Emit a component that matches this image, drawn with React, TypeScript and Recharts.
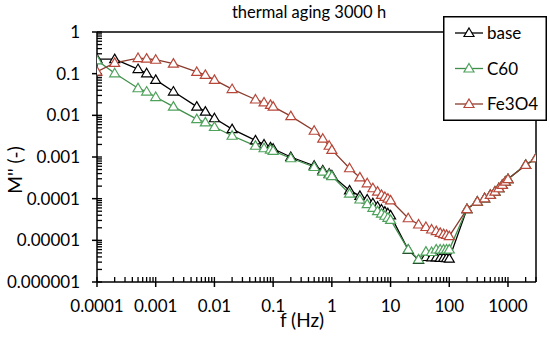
import React from 'react';
import { ComposedChart, Line, XAxis, YAxis, ReferenceLine } from 'recharts';

// Frequencies (Hz)
const frequencies = [
  0.0001, 0.0002, 0.0005, 0.0007, 0.001, 0.002, 0.005, 0.007, 0.01, 0.02, 0.05, 0.07, 0.09,
  0.1, 0.2, 0.5, 0.7, 0.9, 1, 2, 3, 4, 5, 6, 7, 8, 9, 10, 20, 30, 40, 50, 60, 70, 80, 90,
  100, 200, 300, 400, 500, 600, 700, 800, 900, 1000, 2000, 3000,
];

const baseValues = [
  0.224, 0.224, 0.129, 0.102, 0.0708, 0.0372, 0.0162, 0.0123, 0.00851, 0.00468, 0.00251, 0.002, 0.0017,
  0.00158, 0.001, 0.000617, 0.000479, 0.000398, 0.000363,
  0.000158, 0.000117, 0.0000955, 0.0000776, 0.0000646, 0.000055, 0.000049, 0.0000447,
  0.0000398, 0.00000589, 0.00000339, 0.00000398, 0.00000389, 0.00000389, 0.0000038, 0.0000038, 0.00000372,
  0.00000363, 0.0000562, 0.0000851, 0.000102, 0.000123, 0.000148, 0.000178, 0.000214, 0.000257,
  0.000295, 0.000646, 0.000933,
];

const c60Values = [
  0.209, 0.102, 0.0447, 0.0372, 0.0275, 0.0162, 0.00813, 0.00676, 0.00525, 0.00324, 0.00186, 0.00162, 0.00151,
  0.00141, 0.000933, 0.000575, 0.000447, 0.00038, 0.000347,
  0.000132, 0.0000955, 0.0000741, 0.0000603, 0.0000501, 0.0000437, 0.0000389, 0.0000347,
  0.0000309, 0.00000603, 0.00000347, 0.00000537, 0.00000525, 0.00000603, 0.00000603, 0.00000603, 0.00000603,
  0.00000603, 0.0000562, 0.0000851, 0.000102, 0.000123, 0.000148, 0.000178, 0.000214, 0.000257,
  0.000295, 0.000646, 0.000933,
];

const fe3o4Values = [
  0.112, 0.182, 0.237, 0.229, 0.216, 0.174, 0.11, 0.0933, 0.0708, 0.0427, 0.024, 0.0204, 0.0178,
  0.0162, 0.00955, 0.00427, 0.00275, 0.00186, 0.00148,
  0.000537, 0.000324, 0.000234, 0.000178, 0.000148, 0.000123, 0.00011, 0.0001,
  0.0000912, 0.0000339, 0.000024, 0.0000209, 0.0000182, 0.0000166, 0.0000151, 0.0000141, 0.0000135,
  0.0000126, 0.0000562, 0.0000851, 0.000102, 0.000123, 0.000148, 0.000178, 0.000214, 0.000257,
  0.000295, 0.000646, 0.000933,
];

const xMajorTicks = [0.0001, 0.001, 0.01, 0.1, 1, 10, 100, 1000];
const xMajorLabels = ['0.0001', '0.001', '0.01', '0.1', '1', '10', '100', '1000'];
const yMajorTicks = [0.000001, 0.00001, 0.0001, 0.001, 0.01, 0.1, 1];
const yMajorLabels = ['0.000001', '0.00001', '0.0001', '0.001', '0.01', '0.1', '1'];
const xDomain = [0.0001, 3000];
const yDomain = [0.000001, 1];

const seriesNames = ['base', 'C60', 'Fe3O4'];
const seriesKeys = ['base', 'c60', 'fe'];
const lineColors = ['#000000', '#3f8f4a', '#8a3b2c'];
const markerColors = ['#000000', '#4fa25c', '#b8473a'];

const FONT = "Lato, 'Open Sans', sans-serif";
const TICK_LEN = 5;

const data = frequencies.map((f, i) => ({
  f,
  base: baseValues[i],
  c60: c60Values[i],
  fe: fe3o4Values[i],
}));

const buildMinor = (majors: number[], max: number) => {
  const out: number[] = [];
  majors.forEach((m) => {
    for (let k = 2; k <= 9; k++) {
      const v = parseFloat((m * k).toPrecision(6));
      if (v <= max) out.push(v);
    }
  });
  return out;
};

const xAllTicks = [...xMajorTicks, ...buildMinor(xMajorTicks, xDomain[1])].sort((a, b) => a - b);
const yAllTicks = [...yMajorTicks, ...buildMinor(yMajorTicks.slice(0, -1), yDomain[1])].sort((a, b) => a - b);

// Native tick lines point inward (negative tick size); the custom tick adds
// the outward stub of each major tick and its label.
const XTick = (props: any) => {
  const { x, y, payload } = props;
  const ay = Number(y) + TICK_LEN; // axis line position
  const idx = xMajorTicks.indexOf(payload.value);
  if (idx < 0) return <g />;
  return (
    <g>
      <line x1={x} x2={x} y1={ay} y2={ay + 5} stroke="#000000" strokeWidth={1.5} />
      <text x={x} y={ay + 30} textAnchor="middle" fontSize={17} fontFamily={FONT} fill="#000">
        {xMajorLabels[idx]}
      </text>
    </g>
  );
};

const YTick = (props: any) => {
  const { x, y, payload } = props;
  const ax = Number(x) - TICK_LEN; // axis line position
  const idx = yMajorTicks.indexOf(payload.value);
  if (idx < 0) return <g />;
  return (
    <g>
      <line x1={ax - 5} x2={ax} y1={y} y2={y} stroke="#000000" strokeWidth={1.5} />
      <text x={ax - 17} y={Number(y) + 6} textAnchor="end" fontSize={17} fontFamily={FONT} fill="#000">
        {yMajorLabels[idx]}
      </text>
    </g>
  );
};

const makeTriangle = (color: string) => (props: any) => {
  const { cx, cy, index } = props;
  if (cx == null || cy == null) return <g key={index} />;
  return (
    <path
      key={index}
      d={`M${cx},${cy - 5} L${cx + 5},${cy + 3.5} L${cx - 5},${cy + 3.5} Z`}
      fill="#fff"
      stroke={color}
      strokeWidth={1.2}
    />
  );
};

const LegendBox = () => (
  <svg width={104} height={105} style={{ display: 'block' }}>
    <rect x={0.75} y={0.75} width={102.5} height={103.5} fill="#fff" stroke="#000" strokeWidth={1.5} />
    {seriesNames.map((name, i) => {
      const cy = 17 + i * 35.5;
      return (
        <g key={name}>
          <line x1={12} x2={40} y1={cy} y2={cy} stroke={lineColors[i]} strokeWidth={1.3} />
          <path
            d={`M26,${cy - 5} L31,${cy + 3.5} L21,${cy + 3.5} Z`}
            fill="#fff"
            stroke={markerColors[i]}
            strokeWidth={1.2}
          />
          <text x={44} y={cy + 6} fontSize={17} fontFamily={FONT} fill="#000">
            {name}
          </text>
        </g>
      );
    })}
  </svg>
);

const textBase: React.CSSProperties = {
  position: 'absolute',
  fontFamily: FONT,
  color: '#000',
  textAlign: 'center',
  whiteSpace: 'nowrap',
};

export default function App() {
  return (
    <div style={{ position: 'absolute', left: 0, top: 0, width: 550, height: 339, background: '#fff' }}>
      <ComposedChart
        width={550}
        height={339}
        data={data}
        margin={{ top: 32, right: 14, bottom: 27, left: 37 }}
      >
        <XAxis
          dataKey="f"
          type="number"
          scale="log"
          domain={xDomain}
          allowDataOverflow
          ticks={xAllTicks}
          interval={0}
          tickSize={-TICK_LEN}
          tickMargin={0}
          tickLine={{ stroke: '#000', strokeWidth: 1.3 }}
          tick={<XTick />}
          axisLine={{ stroke: '#000', strokeWidth: 1.5 }}
          height={30}
        />
        <YAxis
          type="number"
          scale="log"
          domain={yDomain}
          allowDataOverflow
          ticks={yAllTicks}
          interval={0}
          tickSize={-TICK_LEN}
          tickMargin={0}
          tickLine={{ stroke: '#000', strokeWidth: 1.3 }}
          tick={<YTick />}
          axisLine={{ stroke: '#000', strokeWidth: 1.5 }}
          width={60}
        />
        <ReferenceLine y={yDomain[1]} stroke="#000" strokeWidth={1.5} />
        <ReferenceLine x={xDomain[1]} stroke="#000" strokeWidth={1.5} />
        {seriesKeys.map((k, i) => (
          <Line
            key={k}
            type="linear"
            dataKey={k}
            name={seriesNames[i]}
            stroke={lineColors[i]}
            strokeWidth={1.3}
            dot={makeTriangle(markerColors[i])}
            activeDot={false}
            isAnimationActive={false}
          />
        ))}
      </ComposedChart>
      <div style={{ ...textBase, left: 0, width: 618, top: 1, fontSize: 16.5, lineHeight: '22px' }}>
        thermal aging 3000 h
      </div>
      <div style={{ ...textBase, left: 252, width: 100, top: 308.5, fontSize: 19, lineHeight: '22px' }}>
        f (Hz)
      </div>
      <div
        style={{
          ...textBase,
          left: 14.6 - 40,
          top: 170 - 11,
          width: 80,
          height: 22,
          fontSize: 19,
          lineHeight: '22px',
          transform: 'rotate(-90deg)',
        }}
      >
        M'' (-)
      </div>
      <div style={{ position: 'absolute', left: 443, top: 16 }}>
        <LegendBox />
      </div>
    </div>
  );
}
